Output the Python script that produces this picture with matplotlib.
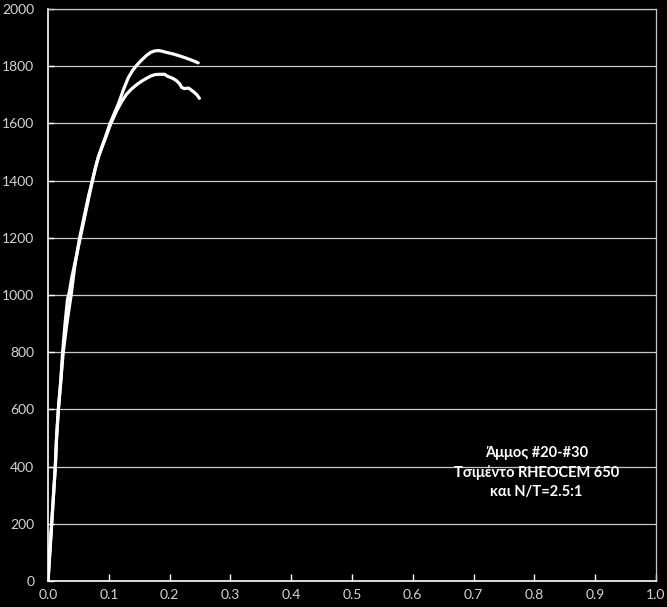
import matplotlib

matplotlib.use('Agg')
import matplotlib.pyplot as plt

# curve A (upper peak)
strain_a = [0.0, 0.003, 0.006, 0.009, 0.012, 0.014, 0.017, 0.021, 0.025, 0.031,
            0.038, 0.044, 0.052, 0.057, 0.062, 0.067, 0.073, 0.078, 0.083, 0.088,
            0.094, 0.102, 0.109, 0.116, 0.124, 0.132, 0.139, 0.146, 0.154, 0.162,
            0.169, 0.176, 0.182, 0.187, 0.196, 0.206, 0.217, 0.228, 0.238, 0.247]
stress_a = [0, 100, 200, 300, 400, 500, 600, 700, 800, 900,
            1000, 1100, 1200, 1250, 1300, 1350, 1400, 1445, 1484, 1515,
            1550, 1600, 1635, 1670, 1718, 1760, 1785, 1804, 1822, 1838,
            1849, 1854, 1855, 1853, 1848, 1843, 1836, 1828, 1820, 1812]

# curve B (lower peak)
strain_b = [0.0, 0.003, 0.006, 0.009, 0.012, 0.014, 0.017, 0.021, 0.024, 0.028,
            0.032, 0.035, 0.039, 0.046, 0.053, 0.058, 0.063, 0.068, 0.073, 0.078,
            0.083, 0.089, 0.095, 0.103, 0.113, 0.121, 0.129, 0.137, 0.146, 0.154,
            0.162, 0.169, 0.176, 0.184, 0.192, 0.195, 0.198, 0.206, 0.211, 0.216,
            0.220, 0.224, 0.231, 0.235, 0.241, 0.245, 0.249]
stress_b = [0, 100, 200, 300, 400, 500, 600, 700, 800, 900,
            985, 1010, 1060, 1130, 1200, 1250, 1300, 1350, 1400, 1445,
            1484, 1518, 1552, 1598, 1645, 1676, 1702, 1720, 1736, 1748,
            1758, 1766, 1771, 1772, 1772, 1767, 1764, 1757, 1750, 1740,
            1726, 1722, 1724, 1718, 1708, 1700, 1688]

note = 'Άμμος #20-#30\nΤσιμέντο RHEOCEM 650\nκαι N/T=2.5:1'

fig = plt.figure(figsize=(6.67, 6.07), dpi=100, facecolor='black')
ax = fig.add_axes([0.072, 0.0428, 0.9115, 0.9422], facecolor='black')

ax.plot(strain_a, stress_a, color='white', lw=2.3, solid_capstyle='round',
        solid_joinstyle='round')
ax.plot(strain_b, stress_b, color='white', lw=2.3, solid_capstyle='round',
        solid_joinstyle='round')

ax.set_xlim(0, 1.0)
ax.set_ylim(0, 2000)
ax.set_xticks([i / 10 for i in range(11)])
ax.set_yticks(range(0, 2001, 200))
ax.set_xticklabels([f'{i / 10:.1f}' for i in range(11)])

ax.grid(axis='y', color='#c8c8c8', lw=0.9)
ax.set_axisbelow(True)

for side in ['left', 'bottom']:
    ax.spines[side].set_color('white')
    ax.spines[side].set_linewidth(1.2)
for side in ['right', 'top']:
    ax.spines[side].set_color('#c8c8c8')
    ax.spines[side].set_linewidth(0.9)

ax.tick_params(axis='x', direction='in', length=5, color='white', width=1,
               labelcolor='#d4d4d4', labelsize=10, pad=6)
ax.tick_params(axis='y', direction='in', length=4, color='white', width=1,
               labelcolor='#d4d4d4', labelsize=10, pad=10)
for lab in ax.get_xticklabels() + ax.get_yticklabels():
    lab.set_family('Lato')

ax.text(0.803, 381, note, color='white', fontsize=10.5, fontweight='bold',
        family='Lato', ha='center', va='center', linespacing=1.45)

fig.savefig('out.png', dpi=100, facecolor='black')
